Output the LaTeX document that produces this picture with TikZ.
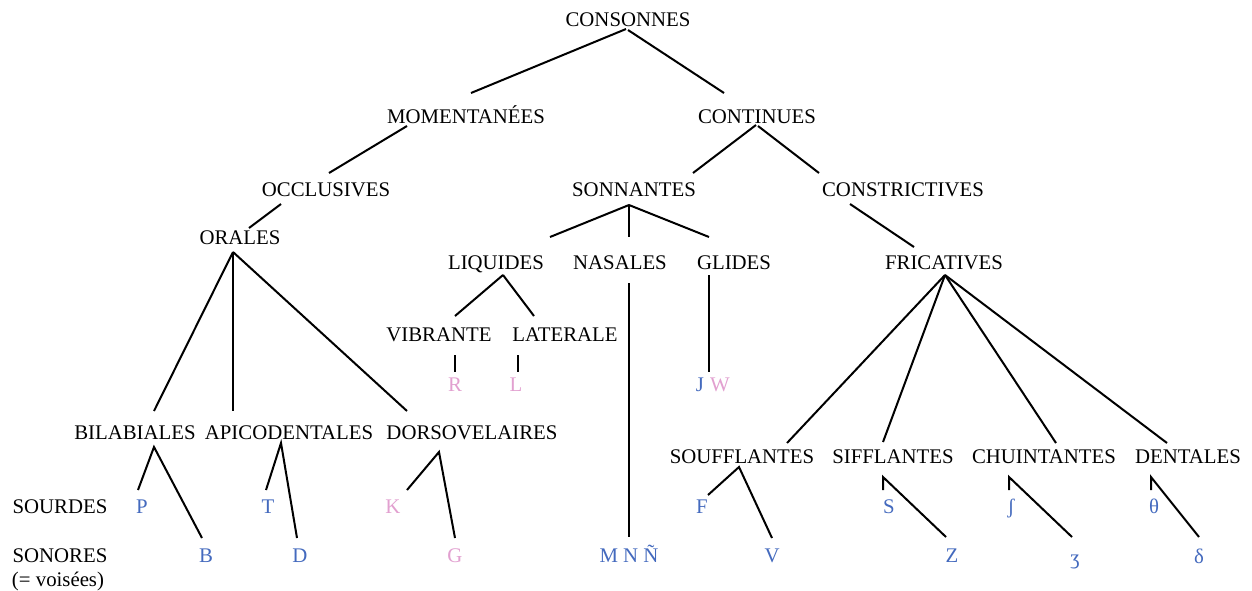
\documentclass[tikz,border=0pt]{standalone}
\usepackage{fontspec}
\setmainfont{Liberation Serif}

\definecolor{phbleu}{RGB}{68,106,190}
\definecolor{phrose}{RGB}{226,160,208}
\newcommand{\catfont}{\fontsize{20.8}{24}\selectfont}

\tikzset{
  cat/.style={font=\catfont, inner sep=0pt, text height=13.6pt, text depth=0pt},
  bleu/.style={cat, text=phbleu},
  rose/.style={cat, text=phrose},
  branche/.style={line width=2pt}
}

\begin{document}
\begin{tikzpicture}[x=1pt, y=-1pt]
% fond et cadre de l'image
\fill[white] (0,0) rectangle (1252,590);

% Les categories
\node[cat] (cons) at (628,20) {CONSONNES};
\node[cat] (mom) at (466,117) {MOMENTANÉES};
\node[cat] (cont) at (757,117) {CONTINUES};
\node[cat] (occl) at (326,190) {OCCLUSIVES};
\node[cat] (sonn) at (634,190) {SONNANTES};
\node[cat] (constr) at (903,190) {CONSTRICTIVES};
\node[cat] (oral) at (240,238) {ORALES};
\node[cat] (liq) at (496,263) {LIQUIDES};
\node[cat] (nas) at (620,263) {NASALES};
\node[cat] (glid) at (734,263) {GLIDES};
\node[cat] (fric) at (944,263) {FRICATIVES};
\node[cat] (vibr) at (439,335) {VIBRANTE};
\node[cat] (lat) at (565,335) {LATERALE};
\node[cat] (bilab) at (135,433) {BILABIALES};
\node[cat] (apico) at (289,433) {APICODENTALES};
\node[cat] (dorso) at (472,433) {DORSOVELAIRES};
\node[cat] (souf) at (742,457) {SOUFFLANTES};
\node[cat] (siff) at (893,457) {SIFFLANTES};
\node[cat] (chuin) at (1044,457) {CHUINTANTES};
\node[cat] (dent) at (1188,457) {DENTALES};

% Les lignes de gauche
\node[cat] (sourdes) at (60,507) {SOURDES};
\node[cat] (sonores) at (60,556) {SONORES};
\node[cat] (voisees) at (58,580) {(= voisées)};

% Les sons
\node[rose] (r) at (455,385) {R};
\node[rose] (l) at (516,385) {L};
\node[bleu] (j) at (700,385) {J};
\node[rose] (w) at (720,385) {W};
\node[bleu] (p) at (142,507) {P};
\node[bleu] (b) at (206,556) {B};
\node[bleu] (t) at (268,507) {T};
\node[bleu] (d) at (300,556) {D};
\node[rose] (k) at (393,507) {K};
\node[rose] (g) at (455,556) {G};
\node[bleu] (mnn) at (629,556) {M N Ñ};
\node[bleu] (f) at (702,507) {F};
\node[bleu] (v) at (772,556) {V};
\node[bleu] (s) at (889,507) {S};
\node[bleu] (z) at (952,556) {Z};
\node[bleu] (esh) at (1011,507) {ʃ};
\node[bleu] (ezh) at (1075,558) {ʒ};
\node[bleu] (theta) at (1154,507) {θ};
\node[bleu] (eth) at (1199,557) {δ};

% Les branches
\draw[branche] ([shift={(-2,9)}]cons.center) -- ([shift={(5,-24)}]mom.center);
\draw[branche] ([shift={(0,10)}]cons.center) -- ([shift={(-33,-24)}]cont.center);
\draw[branche] ([shift={(-59,9)}]mom.center) -- ([shift={(3,-17)}]occl.center);
\draw[branche] ([shift={(-1,8)}]cont.center) -- ([shift={(59,-17)}]sonn.center);
\draw[branche] ([shift={(1,9)}]cont.center) -- ([shift={(-84,-17)}]constr.center);
\draw[branche] ([shift={(-45,14)}]occl.center) -- ([shift={(9,-10)}]oral.center);
\draw[branche] ([shift={(-5,15)}]sonn.center) -- ([shift={(54,-26)}]liq.center);
\draw[branche] ([shift={(-5,15)}]sonn.center) -- ([shift={(9,-26)}]nas.center);
\draw[branche] ([shift={(-5,15)}]sonn.center) -- ([shift={(-25,-26)}]glid.center);
\draw[branche] ([shift={(-53,14)}]constr.center) -- ([shift={(-30,-16)}]fric.center);
\draw[branche] ([shift={(-7,14)}]oral.center) -- ([shift={(19,-22)}]bilab.center);
\draw[branche] ([shift={(-7,14)}]oral.center) -- ([shift={(-56,-22)}]apico.center);
\draw[branche] ([shift={(-7,14)}]oral.center) -- ([shift={(-65,-22)}]dorso.center);
\draw[branche] ([shift={(7,12)}]liq.center) -- ([shift={(16,-19)}]vibr.center);
\draw[branche] ([shift={(7,12)}]liq.center) -- ([shift={(-31,-19)}]lat.center);
\draw[branche] ([shift={(9,20)}]nas.center) -- ([shift={(0,-19)}]mnn.center);
\draw[branche] ([shift={(-25,12)}]glid.center) -- ([shift={(9,-13)}]j.center);
\draw[branche] ([shift={(16,20)}]vibr.center) -- ([shift={(0,-13)}]r.center);
\draw[branche] ([shift={(-47,20)}]lat.center) -- ([shift={(2,-13)}]l.center);
\draw[branche] ([shift={(1,12)}]fric.center) -- ([shift={(45,-14)}]souf.center);
\draw[branche] ([shift={(1,12)}]fric.center) -- ([shift={(-10,-15)}]siff.center);
\draw[branche] ([shift={(1,12)}]fric.center) -- ([shift={(12,-14)}]chuin.center);
\draw[branche] ([shift={(1,12)}]fric.center) -- ([shift={(-21,-14)}]dent.center);
\draw[branche] ([shift={(-4,-17)}]p.center) -- ([shift={(19,14)}]bilab.center) -- ([shift={(-4,-18)}]b.center);
\draw[branche] ([shift={(-2,-17)}]t.center) -- ([shift={(-8,10)}]apico.center) -- ([shift={(-3,-18)}]d.center);
\draw[branche] ([shift={(14,-17)}]k.center) -- ([shift={(-33,19)}]dorso.center) -- ([shift={(0,-18)}]g.center);
\draw[branche] ([shift={(6,-12)}]f.center) -- ([shift={(-3,10)}]souf.center) -- ([shift={(0,-18)}]v.center);
\draw[branche] ([shift={(-6,-17)}]s.center) -- ([shift={(-10,20)}]siff.center) -- ([shift={(-6,-19)}]z.center);
\draw[branche] ([shift={(-2,-17)}]esh.center) -- ([shift={(-35,20)}]chuin.center) -- ([shift={(-3,-21)}]ezh.center);
\draw[branche] ([shift={(-3,-17)}]theta.center) -- ([shift={(-37,20)}]dent.center) -- ([shift={(0,-20)}]eth.center);
\end{tikzpicture}
\end{document}
